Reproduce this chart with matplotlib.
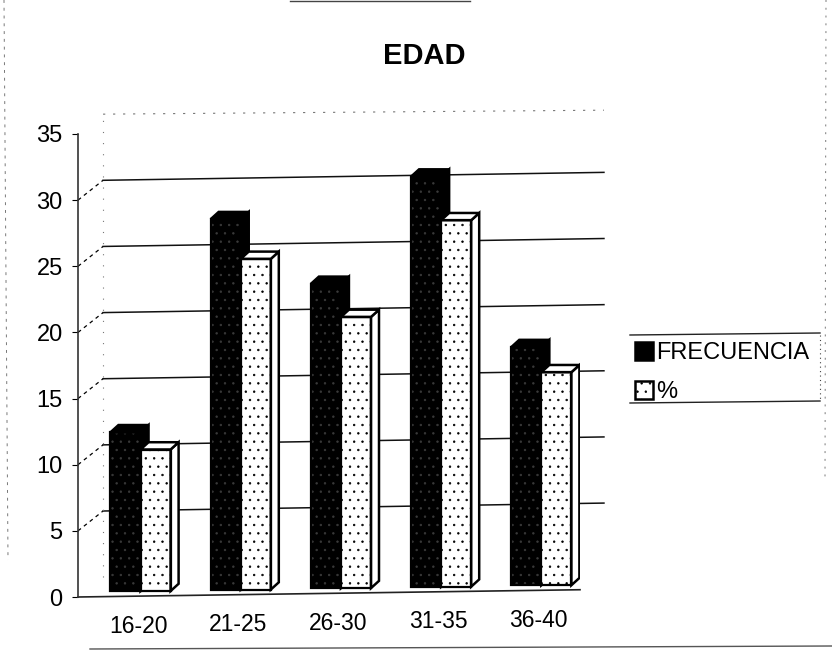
import matplotlib
matplotlib.use('Agg')
import matplotlib.pyplot as plt
from matplotlib.patches import Polygon

plt.rcParams['font.family'] = ['Liberation Sans', 'DejaVu Sans']

categories = ['16-20', '21-25', '26-30', '31-35', '36-40']
frecuencia = [12, 28, 23, 31, 18]
porcentaje = [10.7, 25.0, 20.5, 27.7, 16.1]
y_ticks = [0, 5, 10, 15, 20, 25, 30, 35]
title = 'EDAD'

W, H = 832, 668
bar_w = 0.30
depth_x, depth_y = 0.08, 0.55       # side of each bar
wall_x, wall_y = 0.25, 1.5          # floor to back wall
rise = 0.11                         # scanned page is tilted a bit


def base(i):
    return 0.45 + rise * i


def draw_bars(ax, values, offset, face, hatch, hatch_col, side):
    xs = [i + offset for i in range(len(values))]
    bottoms = [base(i) for i in range(len(values))]
    bars = ax.bar(xs, values, bar_w, bottom=bottoms, color=face, edgecolor=hatch_col,
                  hatch=hatch, linewidth=0, zorder=3 + offset)
    for x, v, b in zip(xs, values, bottoms):
        l, r, t = x - bar_w / 2, x + bar_w / 2, b + v
        ax.add_patch(Polygon([(r, b), (r + depth_x, b + depth_y), (r + depth_x, t + depth_y), (r, t)],
                             facecolor=side, edgecolor='black', linewidth=1.8, zorder=3 + offset))
        ax.add_patch(Polygon([(l, t), (l + depth_x, t + depth_y), (r + depth_x, t + depth_y), (r, t)],
                             facecolor=side, edgecolor='black', linewidth=1.8, zorder=3 + offset))
        ax.add_patch(Polygon([(l, b), (r, b), (r, t), (l, t)], fill=False,
                             edgecolor='black', linewidth=1.6, zorder=3.2 + offset))
    return bars


fig = plt.figure(figsize=(W / 100, H / 100), dpi=100)
ax = fig.add_axes([78 / W, 1 - 597 / H, (580 - 78) / W, (597 - 134) / H])
ax.set_xlim(-0.629, 4.381)
ax.set_ylim(0, 35)
ax.patch.set_visible(False)
for s in ['top', 'right', 'bottom']:
    ax.spines[s].set_visible(False)
ax.spines['left'].set_linewidth(1.2)
ax.spines['left'].set_color('#333333')
ax.set_yticks(y_ticks)
ax.tick_params(axis='y', labelsize=17, length=4, pad=7)
ax.set_xticks([])

# back wall grid
x0 = ax.get_xlim()[0]
xb = x0 + wall_x
xe = 4.62
for v in y_ticks[1:-1]:
    ax.plot([x0, xb], [v, v + wall_y], color='black', lw=0.9, ls=(0, (3, 3)), clip_on=False, zorder=1)
    ax.plot([xb, xe], [v + wall_y, v + wall_y + 0.6], color='#111111', lw=1.1, clip_on=False, zorder=1)
ax.plot([xb, xe], [35 + wall_y, 35 + wall_y + 0.3], color='#777777', lw=0.8, ls=(0, (2, 7)), clip_on=False, zorder=1)
ax.plot([xb, xb], [wall_y, 35 + wall_y], color='#777777', lw=0.8, ls=(0, (1, 9)), clip_on=False, zorder=1)
# floor line
ax.plot([x0, 4.381], [0, 0.55], color='#222222', lw=1.2, clip_on=False, zorder=2)

plt.rcParams['hatch.linewidth'] = 0.5
b1 = draw_bars(ax, frecuencia, -0.155, 'black', '..', '#3a3a3a', 'black')
b2 = draw_bars(ax, porcentaje, 0.145, 'white', '...', 'black', 'white')
for bar in b2:
    bar.set_hatch('..')

for i, c in enumerate(categories):
    ax.text(i - 0.03, -2.2 + rise * i, c, fontsize=16.5, ha='center', va='center', clip_on=False)

fig.text(424 / W, 1 - 56 / H, title, fontsize=21, fontweight='bold', ha='center', va='center')

leg = fig.legend([b1, b2], ['FRECUENCIA', '%'], loc='upper left',
                 bbox_to_anchor=(628 / W, 1 - 335 / H), frameon=False, fontsize=17,
                 handlelength=0.75, handleheight=0.8, handletextpad=0.15,
                 labelspacing=0.7, borderaxespad=0, borderpad=0.3)
for p in leg.get_patches():
    p.set_linewidth(1.8)
    p.set_edgecolor('black')


def page_line(xs, ys, **kw):
    fig.add_artist(plt.Line2D([x / W for x in xs], [1 - y / H for y in ys], **kw))


# legend box and scanned frame
page_line([630, 820], [335, 333], color='#222222', lw=1)
page_line([630, 820], [403, 401], color='#222222', lw=1)
page_line([820, 820], [335, 400], color='#444444', lw=0.8, ls=(0, (1, 3)))
page_line([90, 832], [649, 646], color='#555555', lw=1)
page_line([290, 470], [1, 1], color='#444444', lw=1)
page_line([4, 8], [0, 560], color='#777777', lw=0.7, ls=(0, (3, 5)))
page_line([826, 825], [0, 480], color='#777777', lw=0.7, ls=(0, (2, 6)))

fig.savefig('out.png', dpi=100)
